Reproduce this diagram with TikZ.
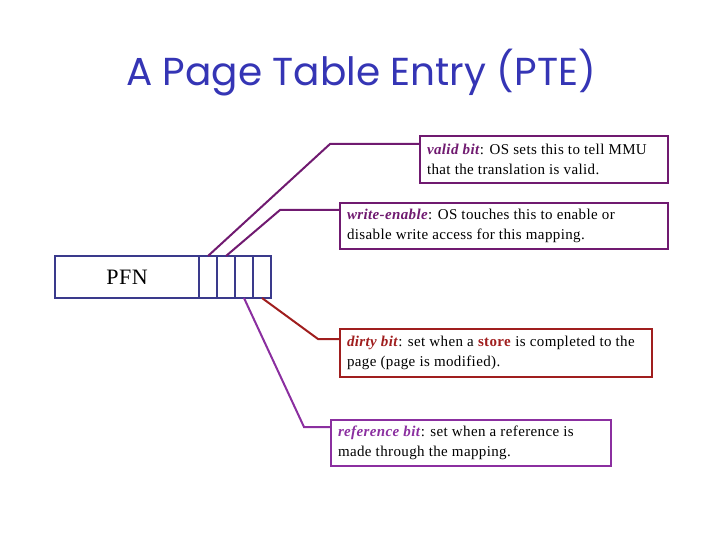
\documentclass[tikz,border=0pt]{standalone}
\usepackage{fontspec}
\setmainfont[LetterSpace=2.5]{Liberation Serif}
\newfontfamily\titlefont{Poppins}
\usepackage{xcolor}
\usepackage{tikz}
\usetikzlibrary{positioning}
\definecolor{ptenavy}{HTML}{3A3A8C}
\definecolor{ptepurple}{HTML}{701A70}
\definecolor{pteviolet}{HTML}{8B2FA0}
\definecolor{ptered}{HTML}{A01E1E}
\definecolor{titleblue}{HTML}{3535B5}
\tikzset{
    every picture/.style={line join=miter},
    ptecell/.style={draw=ptenavy,fill=white,line width=1.8pt,
      minimum width=18pt,minimum height=42pt,inner sep=0pt,outer sep=0pt},
    notebox/.style={draw=#1,line width=2pt,anchor=north west,align=flush left,
      inner xsep=7pt,inner ysep=3pt,outer sep=0pt,
      font=\fontsize{15}{19.5}\selectfont},
    leader/.style={draw=#1,line width=2pt}
}
\newcommand{\bitlabel}[2]{\textcolor{#1}{\textbf{\textit{#2}}}}

\begin{document}
\begin{tikzpicture}[x=1pt,y=-1pt]
  \useasboundingbox (0,0) rectangle (720,540);
  \node[text=titleblue,font=\titlefont\fontsize{39}{44}\selectfont] (title) at (361,73) {A Page Table Entry (PTE)};
  % the entry: frame number and four flag bits
  \node[ptecell,minimum width=144pt,anchor=north west,font=\fontsize{22}{26}\selectfont] (pfn) at (55,256) {PFN};
  \node[ptecell,right=0pt of pfn] (vb) {};
  \node[ptecell,right=0pt of vb] (wb) {};
  \node[ptecell,right=0pt of wb] (rb) {};
  \node[ptecell,right=0pt of rb] (db) {};
  % notes
  \node[notebox=ptepurple,text width=234pt,minimum height=47pt] (valid) at (420,136)
    {\bitlabel{ptepurple}{valid bit}: OS sets this to tell MMU\\that the translation is valid.};
  \node[notebox=ptepurple,text width=314pt,minimum height=46pt] (write) at (340,203)
    {\bitlabel{ptepurple}{write-enable}: OS touches this to enable or\\disable write access for this mapping.};
  \node[notebox=ptered,text width=298pt,minimum height=48pt] (dirty) at (340,329)
    {\bitlabel{ptered}{dirty bit}: set when a \textcolor{ptered}{\textbf{store}} is completed to the\\page (page is modified).};
  \node[notebox=pteviolet,text width=266pt,minimum height=46pt] (refer) at (331,420)
    {\bitlabel{pteviolet}{reference bit}: set when a reference is\\made through the mapping.};
  \coordinate (vbend) at (330,144);
  \coordinate (wbend) at (280,210);
  \coordinate (dbend) at (318,339);
  \coordinate (rbend) at (304,427);
  \draw[leader=ptepurple] (vb.north) -- (vbend) -- (vbend -| valid.west);
  \draw[leader=ptepurple] (wb.north) -- (wbend) -- (wbend -| write.west);
  \draw[leader=ptered] (db.south) -- (dbend) -- (dbend -| dirty.west);
  \draw[leader=pteviolet] (rb.south) -- (rbend) -- (rbend -| refer.west);
\end{tikzpicture}
\end{document}
